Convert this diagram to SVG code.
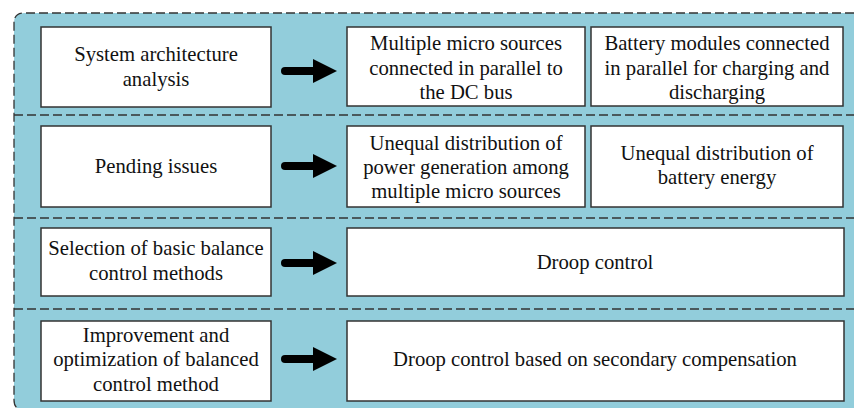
<svg xmlns="http://www.w3.org/2000/svg" width="854" height="408" viewBox="0 0 854 408">
<defs>
<style>
.bg{fill:#92CDDB;stroke:#333;stroke-width:1.3;stroke-dasharray:9 4}
.div{stroke:#333;stroke-width:1.3;stroke-dasharray:9 4;fill:none}
.box{fill:#fff;stroke:#333;stroke-width:1.5}
.t{font-size:20.7px;fill:#111;text-anchor:middle}
.arr{fill:#000}
.shaft{stroke:#000;stroke-width:8;stroke-linecap:round}
</style>
</defs>
<path class="bg" d="M880,13 L24,13 Q14,13 14,23 L14,400 Q14,410 24,410 L880,410 Z"/>
<g id="dividers">
<line class="div" x1="14" y1="115" x2="854" y2="115"/>
<line class="div" x1="14" y1="218" x2="854" y2="218"/>
<line class="div" x1="14" y1="309" x2="854" y2="309"/>
</g>
<g font-family="'Liberation Serif', Tinos, 'Times New Roman', 'DejaVu Serif', serif">
<g id="n1"><rect class="box" x="41" y="27" width="230" height="80"/>
<text class="t" x="156" y="61">System architecture</text><text class="t" x="156" y="86">analysis</text></g>
<g id="n2"><rect class="box" x="347" y="27" width="238" height="79"/>
<text class="t" x="466" y="50">Multiple micro sources</text><text class="t" x="466" y="75">connected in parallel to</text><text class="t" x="466" y="99">the DC bus</text></g>
<g id="n3"><rect class="box" x="591" y="27" width="252" height="79"/>
<text class="t" x="717" y="50">Battery modules connected</text><text class="t" x="717" y="75">in parallel for charging and</text><text class="t" x="717" y="99">discharging</text></g>
<g id="n4"><rect class="box" x="41" y="126" width="230" height="81"/>
<text class="t" x="156" y="173">Pending issues</text></g>
<g id="n5"><rect class="box" x="347" y="126" width="238" height="81"/>
<text class="t" x="466" y="150">Unequal distribution of</text><text class="t" x="466" y="174">power generation among</text><text class="t" x="466" y="198">multiple micro sources</text></g>
<g id="n6"><rect class="box" x="591" y="126" width="252" height="81"/>
<text class="t" x="717" y="160">Unequal distribution of</text><text class="t" x="717" y="184">battery energy</text></g>
<g id="n7"><rect class="box" x="41" y="228" width="230" height="68"/>
<text class="t" x="156" y="255">Selection of basic balance</text><text class="t" x="156" y="280">control methods</text></g>
<g id="n8"><rect class="box" x="347" y="228" width="497" height="68"/>
<text class="t" x="595" y="269">Droop control</text></g>
<g id="n9"><rect class="box" x="41" y="321" width="230" height="80"/>
<text class="t" x="156" y="342">Improvement and</text><text class="t" x="156" y="366">optimization of balanced</text><text class="t" x="156" y="391">control method</text></g>
<g id="n10"><rect class="box" x="347" y="321" width="497" height="80"/>
<text class="t" x="595" y="366">Droop control based on secondary compensation</text></g>
</g>
<g id="connectors">
<line class="shaft" x1="285" y1="71" x2="316" y2="71"/><polygon class="arr" points="313,59 337,71 313,83"/>
<line class="shaft" x1="285" y1="166" x2="316" y2="166"/><polygon class="arr" points="313,154 337,166 313,178"/>
<line class="shaft" x1="285" y1="263" x2="316" y2="263"/><polygon class="arr" points="313,251 337,263 313,275"/>
<line class="shaft" x1="285" y1="359" x2="316" y2="359"/><polygon class="arr" points="313,347 337,359 313,371"/>
</g>
</svg>
